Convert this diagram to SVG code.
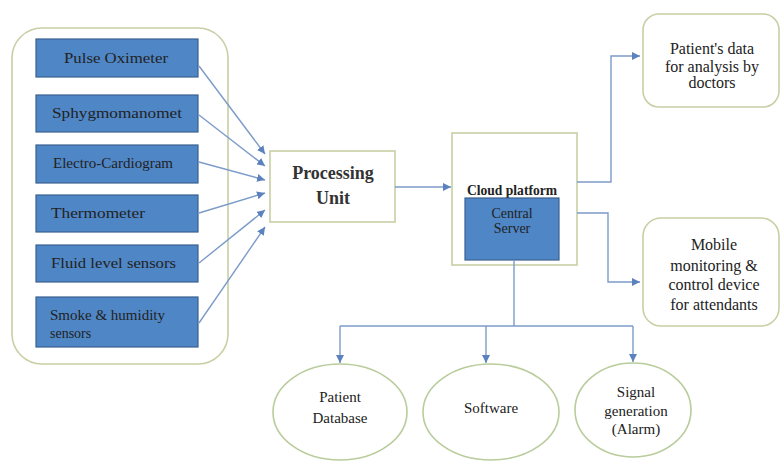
<svg xmlns="http://www.w3.org/2000/svg" width="781" height="465" viewBox="0 0 781 465">
<defs>
<marker id="ah" viewBox="0 0 10 10" refX="10" refY="5" markerWidth="8" markerHeight="8" markerUnits="userSpaceOnUse" orient="auto">
<path d="M0,0 L10,5 L0,10 z" fill="#5b82be"/>
</marker>
<style>
text{font-family:'Liberation Serif','Times New Roman',serif;fill:#222;}
.s{font-size:14px;}
.e{font-size:15px;}
.sensor{fill:#4f86c6;stroke:#3b6190;stroke-width:1.2;}
.pale{fill:#fff;stroke:#c8cfa4;stroke-width:1.6;}
.ell{fill:#fff;stroke:#b9cc9c;stroke-width:1.6;}
.c{fill:none;stroke:#7c9bc9;stroke-width:1.4;}
</style>
</defs>
<rect width="781" height="465" fill="#fff"/>

<g id="sensors-group">
<rect class="pale" x="12" y="28" width="216" height="336" rx="30"/>
</g>

<g id="pulse-oximeter">
<rect class="sensor" x="36" y="39" width="162" height="38"/>
<text class="s" x="116" y="63" text-anchor="middle" textLength="104" lengthAdjust="spacingAndGlyphs">Pulse Oximeter</text>
</g>
<g id="sphygmomanometer">
<rect class="sensor" x="36" y="95" width="162" height="37"/>
<text class="s" x="52" y="118" textLength="130" lengthAdjust="spacingAndGlyphs">Sphygmomanomet</text>
</g>
<g id="ecg">
<rect class="sensor" x="36" y="145" width="162" height="38"/>
<text class="s" x="53" y="168" textLength="120" lengthAdjust="spacingAndGlyphs">Electro-Cardiogram</text>
</g>
<g id="thermometer">
<rect class="sensor" x="36" y="195" width="162" height="37"/>
<text class="s" x="51" y="218" textLength="94" lengthAdjust="spacingAndGlyphs">Thermometer</text>
</g>
<g id="fluid-level">
<rect class="sensor" x="36" y="245" width="162" height="37"/>
<text class="s" x="51" y="268" textLength="125" lengthAdjust="spacingAndGlyphs">Fluid level sensors</text>
</g>
<g id="smoke-humidity">
<rect class="sensor" x="36" y="297" width="162" height="50"/>
<text class="s" x="50" y="320" textLength="115" lengthAdjust="spacingAndGlyphs">Smoke &amp; humidity</text>
<text class="s" x="50" y="338">sensors</text>
</g>

<g id="processing-unit">
<rect class="pale" x="270" y="151" width="125" height="71"/>
<text x="333" y="179" text-anchor="middle" font-size="18" font-weight="bold" style="fill:#333">Processing</text>
<text x="333" y="204" text-anchor="middle" font-size="18" font-weight="bold" style="fill:#333">Unit</text>
</g>

<g id="cloud-platform">
<rect class="pale" x="452" y="133" width="125" height="132"/>
<text x="512" y="195" text-anchor="middle" font-size="14" font-weight="bold" textLength="90" lengthAdjust="spacingAndGlyphs">Cloud platform</text>
<rect class="sensor" x="465" y="198" width="94" height="62"/>
<text class="s" x="512" y="218" text-anchor="middle">Central</text>
<text class="s" x="512" y="233" text-anchor="middle">Server</text>
</g>

<g id="patients-data">
<rect class="pale" x="643" y="14" width="136" height="93" rx="16"/>
<text x="712" y="54" text-anchor="middle" font-size="16">Patient's data</text>
<text x="712" y="72" text-anchor="middle" font-size="16">for analysis by</text>
<text x="712" y="88" text-anchor="middle" font-size="16">doctors</text>
</g>

<g id="mobile-monitoring">
<rect class="pale" x="643" y="218" width="136" height="108" rx="18"/>
<text x="714" y="250" text-anchor="middle" font-size="16">Mobile</text>
<text x="714" y="271" text-anchor="middle" font-size="16">monitoring &amp;</text>
<text x="714" y="290" text-anchor="middle" font-size="16">control device</text>
<text x="714" y="310" text-anchor="middle" font-size="16">for attendants</text>
</g>

<g id="patient-database">
<ellipse class="ell" cx="340" cy="412" rx="67" ry="48"/>
<text class="e" x="340" y="402" text-anchor="middle">Patient</text>
<text class="e" x="340" y="423" text-anchor="middle">Database</text>
</g>
<g id="software">
<ellipse class="ell" cx="491" cy="412" rx="68" ry="48"/>
<text class="e" x="491" y="413" text-anchor="middle">Software</text>
</g>
<g id="signal-generation">
<ellipse class="ell" cx="633" cy="410" rx="58" ry="47"/>
<text class="e" x="636" y="397" text-anchor="middle">Signal</text>
<text class="e" x="636" y="416" text-anchor="middle">generation</text>
<text class="e" x="636" y="434" text-anchor="middle">(Alarm)</text>
</g>

<g id="connectors">
<line class="c" x1="199" y1="66" x2="265" y2="154" marker-end="url(#ah)"/>
<line class="c" x1="199" y1="115" x2="265" y2="166" marker-end="url(#ah)"/>
<line class="c" x1="199" y1="162" x2="265" y2="180" marker-end="url(#ah)"/>
<line class="c" x1="199" y1="213" x2="265" y2="193" marker-end="url(#ah)"/>
<line class="c" x1="199" y1="263" x2="265" y2="210" marker-end="url(#ah)"/>
<line class="c" x1="199" y1="323" x2="265" y2="227" marker-end="url(#ah)"/>
<line class="c" x1="395" y1="187" x2="451" y2="187" marker-end="url(#ah)"/>
<polyline class="c" points="577,182 611,182 611,56 640,56" marker-end="url(#ah)"/>
<polyline class="c" points="577,213 608,213 608,282 640,282" marker-end="url(#ah)"/>
<line class="c" x1="514" y1="260" x2="514" y2="326"/>
<line class="c" x1="340" y1="326" x2="633" y2="326"/>
<line class="c" x1="340" y1="326" x2="340" y2="363" marker-end="url(#ah)"/>
<line class="c" x1="486" y1="326" x2="486" y2="363" marker-end="url(#ah)"/>
<line class="c" x1="633" y1="326" x2="633" y2="362" marker-end="url(#ah)"/>
</g>
</svg>
